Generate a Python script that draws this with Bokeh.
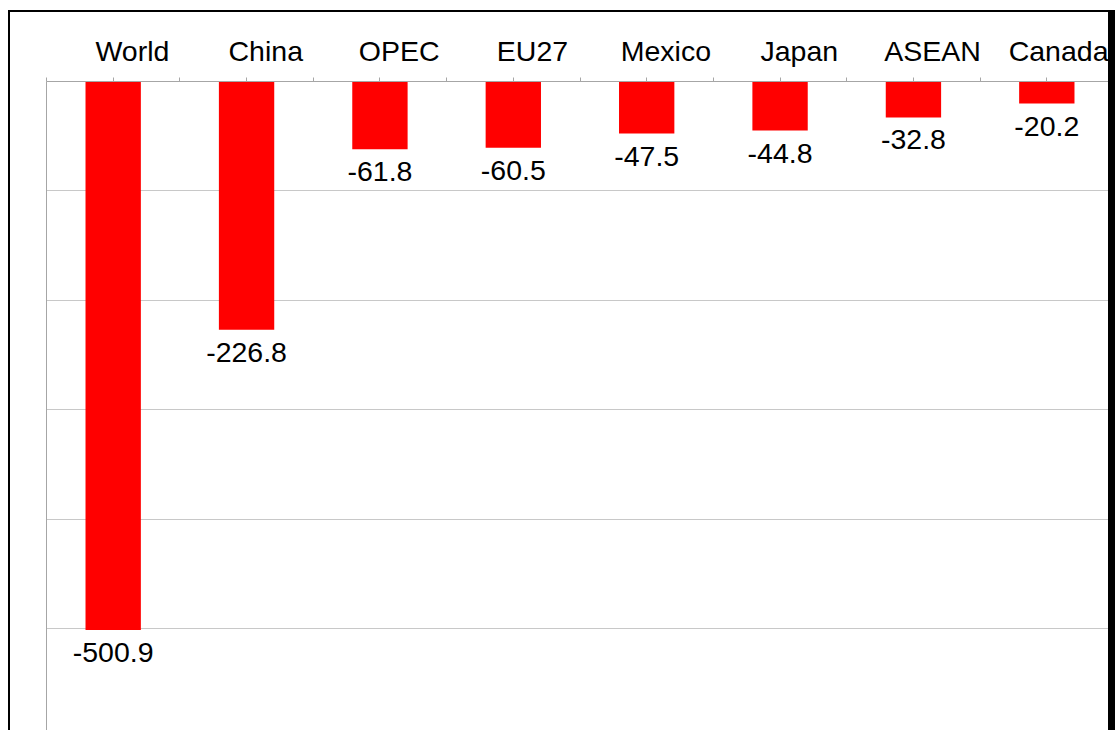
from bokeh.plotting import figure
from bokeh.models import Range1d, FixedTicker, LinearAxis, Grid, ColumnDataSource
from bokeh.embed import file_html
from bokeh.resources import INLINE
from bokeh.core.properties import value

categories = ["World", "China", "OPEC", "EU27", "Mexico", "Japan", "ASEAN", "Canada"]
values = [-500.9, -226.8, -61.8, -60.5, -47.5, -44.8, -32.8, -20.2]
grid_ticks = [-100, -200, -300, -400, -500]

n = len(categories)
xs = [i + 0.5 for i in range(n)]
labels = [f"{v:.1f}" for v in values]

src = ColumnDataSource(dict(x=xs, top=[0] * n, bottom=values, label=labels))

FONT = "Liberation Sans"
AXIS_GRAY = "#a6a6a6"
LABEL_SHIFT = 0.144  # category names sit a little right of their tick

p = figure(width=1107, height=720, output_backend="svg", toolbar_location=None,
           x_range=Range1d(0, n), y_range=Range1d(-594.6, 0),
           x_axis_location="above", y_axis_location=None,
           min_border_left=36, min_border_right=4, min_border_top=69, min_border_bottom=0,
           background_fill_color="white", border_fill_color="white",
           margin=(10, 0, 0, 8))
p.outline_line_color = None
p.styles = {"border-top": "2px solid black", "border-left": "2px solid black",
            "border-right": "7px solid black"}

p.vbar(x="x", top="top", bottom="bottom", width=0.415, source=src,
       fill_color="#ff0000", line_color=None)

p.text(x="x", y="bottom", text="label", source=src, text_align="center",
       text_baseline="top", y_offset=13, text_font=value(FONT),
       text_font_size="28.5px", text_color="#000000")

label_pos = [x + LABEL_SHIFT for x in xs]
xa = p.xaxis[0]
xa.ticker = FixedTicker(ticks=label_pos,
                        minor_ticks=sorted(list(range(n + 1)) + xs))
xa.major_label_overrides = {x: c for x, c in zip(label_pos, categories)}
xa.axis_line_color = AXIS_GRAY
xa.major_tick_line_color = None
xa.minor_tick_line_color = AXIS_GRAY
xa.major_tick_out = 0
xa.major_tick_in = 0
xa.minor_tick_out = 4
xa.minor_tick_in = 0
xa.major_label_standoff = 11
xa.major_label_text_font = FONT
xa.major_label_text_font_size = "28.5px"
xa.major_label_text_color = "#000000"
p.xgrid.visible = False

for side in ("left", "right"):
    ax = LinearAxis(ticker=FixedTicker(ticks=[]), axis_line_color=AXIS_GRAY,
                    major_tick_out=0, major_tick_in=0, minor_tick_out=0, minor_tick_in=0,
                    major_label_standoff=0)
    p.add_layout(ax, side)

grid = Grid(dimension=1, ticker=FixedTicker(ticks=grid_ticks),
            grid_line_color="#c8c8c8", grid_line_width=1)
p.add_layout(grid)

open("out.html", "w").write(file_html(p, INLINE))
